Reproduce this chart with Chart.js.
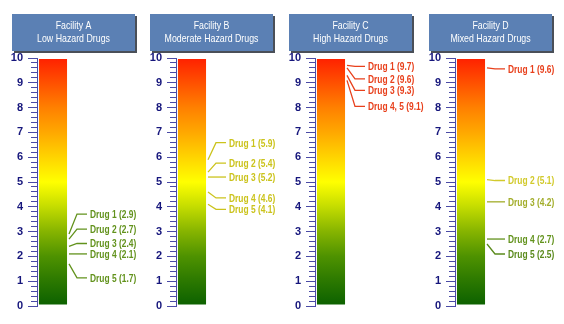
<!DOCTYPE html>
<html>
<head>
<meta charset="utf-8">
<script src="https://cdn.jsdelivr.net/npm/chart.js@4"></script>
<style>
  html, body { margin: 0; padding: 0; background: #fff; }
  #lienzo { position: relative; width: 564px; height: 324px; overflow: hidden; }
  .panel { position: absolute; top: 0; width: 160px; height: 324px; }
</style>
</head>
<body>
<div id="lienzo">
  <div class="panel" style="left:0px"><canvas id="c0" width="160" height="324"></canvas></div>
  <div class="panel" style="left:139px"><canvas id="c1" width="160" height="324"></canvas></div>
  <div class="panel" style="left:278px"><canvas id="c2" width="160" height="324"></canvas></div>
  <div class="panel" style="left:418px"><canvas id="c3" width="160" height="324"></canvas></div>
</div>
<script>
// Datos de cada instalacion
const facilities = ['Facility A', 'Facility B', 'Facility C', 'Facility D'];
const hazardTypes = ['Low Hazard Drugs', 'Moderate Hazard Drugs', 'High Hazard Drugs', 'Mixed Hazard Drugs'];
const scaleMin = 0;
const scaleMax = 10;

const drugsA = ['Drug 1', 'Drug 2', 'Drug 3', 'Drug 4', 'Drug 5'];
const valuesA = [2.9, 2.7, 2.4, 2.1, 1.7];

const drugsB = ['Drug 1', 'Drug 2', 'Drug 3', 'Drug 4', 'Drug 5'];
const valuesB = [5.9, 5.4, 5.2, 4.6, 4.1];

const drugsC = ['Drug 1', 'Drug 2', 'Drug 3', 'Drug 4, 5'];
const valuesC = [9.7, 9.6, 9.3, 9.1];

const drugsD = ['Drug 1', 'Drug 2', 'Drug 3', 'Drug 4', 'Drug 5'];
const valuesD = [9.6, 5.1, 4.2, 2.7, 2.5];

// Estilo: desplazamiento vertical de cada etiqueta (px) y colores
const shiftsA = [-20, -10, -3, 0, 14];
const shiftsB = [-17, -9, 0, 6, 5];
const shiftsC = [1, 11, 15, 26];
const shiftsD = [1, 1, 0, 0, 10];

const colorsA = ['#62921c', '#62921c', '#62921c', '#62921c', '#62921c'];
const colorsB = ['#cbc31c', '#cbc31c', '#cbc31c', '#cbc31c', '#cbc31c'];
const colorsC = ['#e8401c', '#e8401c', '#e8401c', '#e8401c'];
const colorsD = ['#e8401c', '#d2ca2c', '#a2ad2a', '#62921c', '#5a8a1c'];

// colores del degradado de la barra, de 0 a 10
const gradColors = ['#0b6000', '#2b7800', '#4e9200', '#86b400', '#c4dc00', '#ffff00',
  '#ffd400', '#ffa800', '#ff8000', '#ff5000', '#ff2000'];

const fuente = '"Liberation Sans", Arial, sans-serif';
const anchoCanvas = 160;

function degradado(chart) {
  const y = chart.scales.y;
  if (!chart.chartArea || !y) return gradColors[5];
  const y0 = y.getPixelForValue(scaleMin);
  const y1 = y.getPixelForValue(scaleMax);
  if (!isFinite(y0) || !isFinite(y1)) return gradColors[5];
  const g = chart.ctx.createLinearGradient(0, y0, 0, y1);
  gradColors.forEach((c, i) => g.addColorStop(i / (gradColors.length - 1), c));
  return g;
}

function esEntero(v) {
  return Math.abs(v - Math.round(v)) < 1e-6;
}

// texto estrecho (como Arial Narrow) escalando en horizontal
function textoEstrecho(ctx, texto, x, y, escala) {
  ctx.save();
  ctx.translate(x, y);
  ctx.scale(escala, 1);
  ctx.fillText(texto, 0, 0);
  ctx.restore();
}

function crearPanel(idx, drugs, values, shifts, colors) {
  // cabecera azul con el nombre de la instalacion
  const cabecera = {
    id: 'cabecera',
    beforeDraw(chart) {
      const ctx = chart.ctx;
      const x = idx === 0 ? 12 : 11, y = 14, w = 123, h = 37;
      ctx.save();
      ctx.fillStyle = '#4a4f58';
      ctx.fillRect(x + 2, y + 2, w, h);
      ctx.fillStyle = '#5b80b4';
      ctx.fillRect(x, y, w, h);
      ctx.fillStyle = '#ffffff';
      ctx.font = '11px ' + fuente;
      ctx.textAlign = 'center';
      ctx.textBaseline = 'middle';
      textoEstrecho(ctx, facilities[idx], x + w / 2, 26, 0.8);
      textoEstrecho(ctx, hazardTypes[idx], x + w / 2, 39, 0.8);
      ctx.restore();
    },
  };

  // lineas guia y etiquetas de cada medicamento
  const etiquetas = {
    id: 'etiquetas',
    afterDatasetsDraw(chart) {
      const { ctx, chartArea, scales } = chart;
      const x0 = chartArea.right;
      ctx.save();
      ctx.lineWidth = 1.3;
      ctx.font = 'bold 10.5px ' + fuente;
      ctx.textAlign = 'left';
      ctx.textBaseline = 'middle';
      values.forEach((v, i) => {
        const vy = scales.y.getPixelForValue(v);
        const ly = vy + shifts[i];
        ctx.strokeStyle = colors[i];
        ctx.fillStyle = colors[i];
        ctx.beginPath();
        ctx.moveTo(x0, vy);
        ctx.lineTo(x0 + 8, ly);
        ctx.lineTo(x0 + 18, ly);
        ctx.stroke();
        textoEstrecho(ctx, drugs[i] + ' (' + v.toFixed(1) + ')', x0 + 21, ly + 1, 0.8);
      });
      ctx.restore();
    },
  };

  return new Chart(document.getElementById('c' + idx), {
    type: 'bar',
    data: {
      labels: [facilities[idx]],
      datasets: [
        {
          data: [scaleMax],
          backgroundColor: (ctx) => degradado(ctx.chart),
          borderColor: 'rgba(255, 255, 255, 0.35)',
          borderWidth: 1,
          borderSkipped: false,
          barPercentage: 0.94,
          categoryPercentage: 1,
        },
      ],
    },
    options: {
      responsive: false,
      animation: false,
      layout: { padding: { top: 58, bottom: 18, left: 11, right: anchoCanvas - 69 } },
      plugins: { legend: { display: false }, tooltip: { enabled: false } },
      scales: {
        x: { display: false },
        y: {
          min: scaleMin,
          max: scaleMax,
          afterFit: (s) => { s.width = 26; },
          ticks: {
            stepSize: 0.2,
            autoSkip: false,
            padding: 5,
            color: '#16167c',
            font: { family: fuente, size: 11, weight: 'bold' },
            callback: (v) => (esEntero(v) ? Math.round(v) : ''),
          },
          grid: {
            drawOnChartArea: false,
            drawTicks: true,
            tickLength: 9,
            tickWidth: 1,
            tickColor: '#4b4ba6',
            // las marcas menores son mas cortas
            tickBorderDash: (ctx) => (ctx.tick && esEntero(ctx.tick.value) ? [] : [0, 3, 6, 100]),
          },
          border: { display: true, color: '#4b4ba6', width: 1 },
        },
      },
    },
    plugins: [cabecera, etiquetas],
  });
}

crearPanel(0, drugsA, valuesA, shiftsA, colorsA);
crearPanel(1, drugsB, valuesB, shiftsB, colorsB);
crearPanel(2, drugsC, valuesC, shiftsC, colorsC);
crearPanel(3, drugsD, valuesD, shiftsD, colorsD);
</script>
</body>
</html>
